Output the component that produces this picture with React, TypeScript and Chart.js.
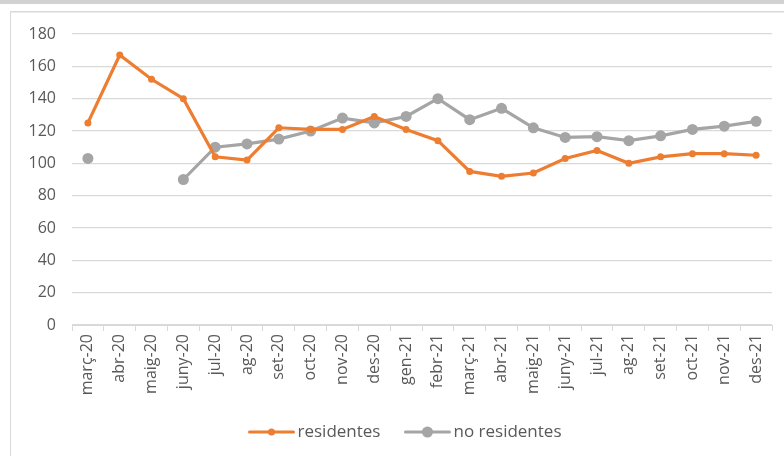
import React, { useEffect, useRef } from 'react';
import { Chart, registerables } from 'chart.js';

Chart.register(...registerables);

const categories = [
  'març-20', 'abr-20', 'maig-20', 'juny-20', 'jul-20', 'ag-20', 'set-20', 'oct-20', 'nov-20', 'des-20',
  'gen-21', 'febr-21', 'març-21', 'abr-21', 'maig-21', 'juny-21', 'jul-21', 'ag-21', 'set-21', 'oct-21', 'nov-21', 'des-21',
];

const residentes = [125, 167, 152, 140, 104, 102, 122, 121, 121, 129, 121, 114, 95, 92, 94, 103, 108, 100, 104, 106, 106, 105];

const noResidentes = [103, null, null, 90, 110, 112, 115, 120, 128, 125, 129, 140, 127, 134, 122, 116, 116.5, 114, 117, 121, 123, 126];

const seriesNames = ['residentes', 'no residentes'];

const yMin = 0;
const yMax = 180;
const yStep = 20;

const ORANGE = '#ed7d31';
const GRAY = '#a5a5a5';
const TEXT = '#595959';
const FONT = '"Open Sans", "Liberation Sans", sans-serif';

const lineLegend = {
  id: 'lineLegend',
  afterDraw(chart: any) {
    const ctx = chart.ctx as CanvasRenderingContext2D;
    const items = chart.data.datasets.map((ds: any) => ({
      label: ds.label as string,
      color: ds.borderColor as string,
      r: ds.pointRadius as number,
    }));
    ctx.save();
    ctx.font = `17px ${FONT}`;
    const lineW = 46;
    const gap = 3;
    const itemGap = 24;
    const widths = items.map((it: any) => lineW + gap + ctx.measureText(it.label).width);
    const total = widths.reduce((a: number, b: number) => a + b, 0) + itemGap * (items.length - 1);
    let x = 405 - total / 2;
    const y = chart.height - 24;
    items.forEach((it: any, i: number) => {
      ctx.strokeStyle = it.color;
      ctx.lineWidth = 3;
      ctx.lineCap = 'round';
      ctx.beginPath();
      ctx.moveTo(x + 1, y);
      ctx.lineTo(x + lineW - 1, y);
      ctx.stroke();
      ctx.fillStyle = it.color;
      ctx.beginPath();
      ctx.arc(x + lineW / 2, y, it.r, 0, Math.PI * 2);
      ctx.fill();
      ctx.fillStyle = TEXT;
      ctx.textBaseline = 'middle';
      ctx.textAlign = 'left';
      ctx.fillText(it.label, x + lineW + gap, y);
      x += widths[i] + itemGap;
    });
    ctx.restore();
  },
};

export default function App() {
  const ref = useRef<HTMLCanvasElement | null>(null);

  useEffect(() => {
    if (!ref.current) return;
    const chart = new Chart(ref.current, {
      type: 'line',
      data: {
        labels: categories,
        datasets: [
          {
            label: seriesNames[0],
            data: residentes,
            borderColor: ORANGE,
            backgroundColor: ORANGE,
            pointBackgroundColor: ORANGE,
            pointBorderColor: ORANGE,
            borderWidth: 3.2,
            pointRadius: 3.5,
            pointBorderWidth: 0,
            tension: 0,
            spanGaps: false,
          },
          {
            label: seriesNames[1],
            data: noResidentes,
            borderColor: GRAY,
            backgroundColor: GRAY,
            pointBackgroundColor: GRAY,
            pointBorderColor: GRAY,
            borderWidth: 3.2,
            pointRadius: 5.5,
            pointBorderWidth: 0,
            tension: 0,
            spanGaps: false,
          },
        ],
      },
      options: {
        responsive: false,
        animation: false,
        layout: { padding: { top: 34, right: 12, bottom: 50, left: 0 } },
        plugins: {
          legend: { display: false },
          tooltip: { enabled: false },
          title: { display: false },
        },
        scales: {
          x: {
            offset: true,
            grid: {
              offset: true,
              drawOnChartArea: false,
              drawTicks: true,
              tickLength: 6,
              color: '#d9d9d9',
            },
            border: { color: '#d9d9d9', width: 1 },
            ticks: {
              autoSkip: false,
              minRotation: 90,
              maxRotation: 90,
              color: TEXT,
              padding: 3,
              font: { family: FONT, size: 16 },
            },
            afterFit: (s: any) => {
              s.height = 81;
            },
          },
          y: {
            min: yMin,
            max: yMax,
            ticks: {
              stepSize: yStep,
              color: TEXT,
              padding: 16,
              font: { family: FONT, size: 16 },
            },
            grid: { color: '#d9d9d9', drawTicks: false, lineWidth: 1.3 },
            border: { display: false },
            afterFit: (s: any) => {
              s.width = 72;
            },
          },
        },
      },
      plugins: [lineLegend],
    });
    return () => chart.destroy();
  }, []);

  return (
    <div style={{ position: 'absolute', left: 0, top: 0, width: 784, height: 456, background: '#ffffff', overflow: 'hidden' }}>
      <div style={{ position: 'absolute', left: 0, top: 0, width: 784, height: 4, background: '#d2d2d2' }} />
      <div style={{ position: 'absolute', left: 10, top: 11, width: 774, height: 445, borderLeft: '1px solid #d9d9d9', borderTop: '1px solid #d9d9d9', boxShadow: 'inset 0 1px 0 #ececec' }} />
      <canvas ref={ref} width={784} height={456} style={{ position: 'absolute', left: 0, top: 0, width: 784, height: 456 }} />
    </div>
  );
}
